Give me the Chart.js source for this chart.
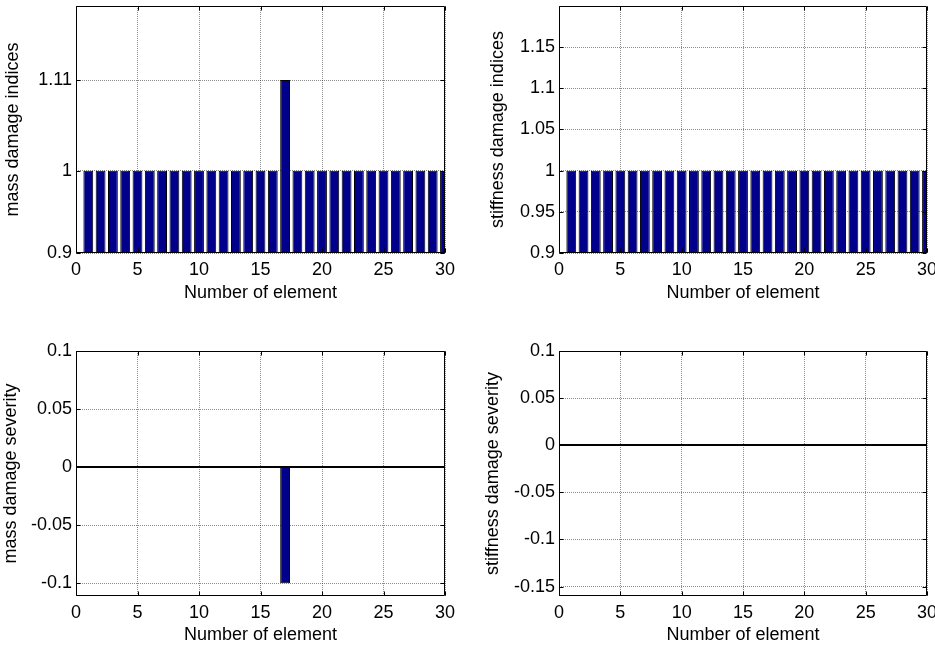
<!DOCTYPE html>
<html>
<head>
<meta charset="utf-8">
<script src="https://cdn.jsdelivr.net/npm/chart.js@4/dist/chart.umd.min.js"></script>
<style>
  body { margin: 0; background: #fff; width: 935px; height: 648px; overflow: hidden; position: relative; }
  canvas { position: absolute; }
</style>
</head>
<body>
<canvas id="massIdx" width="467" height="320" style="left:0;top:0"></canvas>
<canvas id="stiffIdx" width="468" height="320" style="left:467px;top:0"></canvas>
<canvas id="massSev" width="467" height="328" style="left:0;top:320px"></canvas>
<canvas id="stiffSev" width="468" height="328" style="left:467px;top:320px"></canvas>
<script>
// data
const elements = [1, 2, 3, 4, 5, 6, 7, 8, 9, 10, 11, 12, 13, 14, 15, 16, 17, 18, 19, 20, 21, 22, 23, 24, 25, 26, 27, 28, 29, 30];
const massIndices = [1, 1, 1, 1, 1, 1, 1, 1, 1, 1, 1, 1, 1, 1, 1, 1, 1.11, 1, 1, 1, 1, 1, 1, 1, 1, 1, 1, 1, 1, 1];
const stiffIndices = [1, 1, 1, 1, 1, 1, 1, 1, 1, 1, 1, 1, 1, 1, 1, 1, 1, 1, 1, 1, 1, 1, 1, 1, 1, 1, 1, 1, 1, 1];
const massSeverity = [0, 0, 0, 0, 0, 0, 0, 0, 0, 0, 0, 0, 0, 0, 0, 0, -0.1, 0, 0, 0, 0, 0, 0, 0, 0, 0, 0, 0, 0, 0];
const stiffSeverity = [0, 0, 0, 0, 0, 0, 0, 0, 0, 0, 0, 0, 0, 0, 0, 0, 0, 0, 0, 0, 0, 0, 0, 0, 0, 0, 0, 0, 0, 0];

// tick labels
const xTicks = [0, 5, 10, 15, 20, 25, 30];
const massIdxTicks = [0.9, 1, 1.11];
const stiffIdxTicks = [0.9, 0.95, 1, 1.05, 1.1, 1.15];
const massSevTicks = [-0.1, -0.05, 0, 0.05, 0.1];
const stiffSevTicks = [-0.15, -0.1, -0.05, 0, 0.05, 0.1];

const FONT = { family: 'Arial, "Liberation Sans", sans-serif', size: 18 };

// matlab style box, inward ticks and bar baseline
const boxPlugin = {
  id: 'matlabBox',
  afterDatasetsDraw(chart) {
    const { ctx, chartArea: a, scales: { x, y } } = chart;
    const L = Math.round(a.left) + 0.5, R = Math.round(a.right) - 0.5;
    const T = Math.round(a.top) + 0.5, B = Math.round(a.bottom) - 0.5;
    ctx.save();
    ctx.strokeStyle = '#000';
    if (y.min < 0 && y.max > 0) {
      const py = Math.round(y.getPixelForValue(0));
      ctx.lineWidth = 2;
      ctx.beginPath();
      ctx.moveTo(L, py); ctx.lineTo(R, py);
      ctx.stroke();
    }
    ctx.lineWidth = 1;
    ctx.beginPath();
    ctx.rect(L, T, R - L, B - T);
    x.ticks.forEach(t => {
      const px = Math.round(x.getPixelForValue(t.value)) + 0.5;
      ctx.moveTo(px, B); ctx.lineTo(px, B - 4);
      ctx.moveTo(px, T); ctx.lineTo(px, T + 4);
    });
    y.ticks.forEach(t => {
      const py = Math.round(y.getPixelForValue(t.value)) + 0.5;
      ctx.moveTo(L, py); ctx.lineTo(L + 4, py);
      ctx.moveTo(R, py); ctx.lineTo(R - 4, py);
    });
    ctx.stroke();
    ctx.restore();
  }
};

function makePanel(id, p) {
  const canvas = document.getElementById(id);
  return new Chart(canvas.getContext('2d'), {
    type: 'bar',
    data: {
      datasets: [{
        data: elements.map((e, i) => ({ x: e, y: p.values[i] })),
        backgroundColor: '#00008b',
        borderColor: '#000',
        borderWidth: 1,
        barPercentage: 0.8,
        categoryPercentage: 1
      }]
    },
    options: {
      responsive: false,
      animation: false,
      layout: { padding: { top: p.padTop, right: p.padRight, left: 0, bottom: 0 } },
      plugins: { legend: { display: false }, tooltip: { enabled: false } },
      scales: {
        x: {
          type: 'linear',
          min: 0,
          max: 30,
          offset: false,
          afterBuildTicks: s => { s.ticks = xTicks.map(v => ({ value: v })); },
          afterFit: s => { s.height = p.xSpace; s.paddingLeft = 0; s.paddingRight = 0; },
          ticks: { color: '#000', font: FONT, padding: 6, maxRotation: 0, autoSkip: false },
          grid: { color: 'rgba(0,0,0,0.45)', drawTicks: false, offset: false },
          border: { display: false, dash: [1, 1] },
          title: { display: true, text: 'Number of element', color: '#000', font: FONT, padding: { bottom: p.xTitlePad } }
        },
        y: {
          min: p.yMin,
          max: p.yMax,
          afterBuildTicks: s => { s.ticks = p.yTicks.map(v => ({ value: v })); },
          afterFit: s => { s.width = p.ySpace; s.paddingTop = 0; s.paddingBottom = 0; },
          ticks: { color: '#000', font: FONT, padding: 4, callback: v => String(v) },
          grid: { color: 'rgba(0,0,0,0.45)', drawTicks: false },
          border: { display: false, dash: [1, 1] },
          title: { display: true, text: p.yTitle, color: '#000', font: FONT, padding: { top: p.yTitlePad } }
        }
      }
    },
    plugins: [boxPlugin]
  });
}

const massIdxChart = makePanel('massIdx', {
  values: massIndices, yTicks: massIdxTicks, yMin: 0.9, yMax: 1.2,
  yTitle: 'mass damage indices', padTop: 6, padRight: 22, ySpace: 76, xSpace: 67, xTitlePad: 16, yTitlePad: 2
});
const stiffIdxChart = makePanel('stiffIdx', {
  values: stiffIndices, yTicks: stiffIdxTicks, yMin: 0.9, yMax: 1.2,
  yTitle: 'stiffness damage indices', padTop: 6, padRight: 8, ySpace: 92, xSpace: 67, xTitlePad: 16, yTitlePad: 20
});
const massSevChart = makePanel('massSev', {
  values: massSeverity, yTicks: massSevTicks, yMin: -0.111, yMax: 0.1,
  yTitle: 'mass damage severity', padTop: 31, padRight: 22, ySpace: 76, xSpace: 52, xTitlePad: 2, yTitlePad: 0
});
const stiffSevChart = makePanel('stiffSev', {
  values: stiffSeverity, yTicks: stiffSevTicks, yMin: -0.16, yMax: 0.1,
  yTitle: 'stiffness damage severity', padTop: 31, padRight: 8, ySpace: 92, xSpace: 52, xTitlePad: 2, yTitlePad: 15
});
</script>
</body>
</html>
